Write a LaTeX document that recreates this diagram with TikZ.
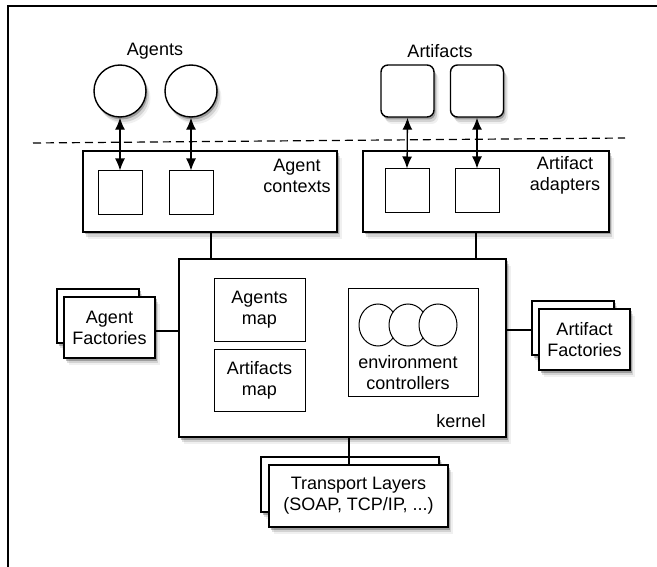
\documentclass[tikz,border=0pt]{standalone}
\usepackage{fontspec}
\setmainfont{Liberation Sans}
\usetikzlibrary{shadows,arrows.meta,calc,shapes.geometric}
\begin{document}
\begin{tikzpicture}[x=1pt,y=-1pt,
  every node/.style={font=\fontsize{18}{21}\selectfont, inner sep=0pt, align=center},
  shad/.style={general shadow={shadow xshift=1.5pt,shadow yshift=-2.5pt,fill=black,opacity=.25},
               general shadow={shadow xshift=3pt,shadow yshift=-5pt,fill=black,opacity=.12},
               general shadow={shadow xshift=4.5pt,shadow yshift=-7pt,fill=black,opacity=.06}},
  outerbox/.style={draw, line width=1.4pt, fill=white, rectangle, shad},
  innerbox/.style={draw, line width=1pt, fill=white, rectangle},
  agentc/.style={draw, line width=1.4pt, fill=white, circle, minimum size=52pt, shad},
  artsq/.style={draw, line width=1.4pt, fill=white, rectangle, rounded corners=7pt, minimum width=53pt, minimum height=52pt, shad},
  envc/.style={draw, line width=1pt, fill=white, ellipse, minimum width=38pt, minimum height=42pt},
  arr/.style={line width=1.3pt, {Latex[length=12pt,width=10pt]}-{Latex[length=12pt,width=10pt]}},
  conn/.style={line width=2.6pt},
  txt/.style={draw=none, fill=none}
]
\useasboundingbox (0,0) rectangle (657,567);
% frame
\coordinate (fbl) at (8,567);
\coordinate (ftl) at (8,6);
\coordinate (ftr) at (657,6);
\draw[line width=1.4pt] (fbl) -- (ftl) -- (ftr);

% top labels
\node[txt] (agl) at (155,51) {Agents};
\node[txt] (arl) at (440,51) {Artifacts};

% agents and artifacts
\node[agentc] (ag1) at (120,91) {};
\node[agentc] (ag2) at (191,91) {};
\node[artsq] (ar1) at (407.5,91) {};
\node[artsq] (ar2) at (477,91) {};

% dashed line
\coordinate (dl) at (33,143);
\coordinate (dr) at (625,138);
\draw[line width=1.2pt, dash pattern=on 8pt off 5pt] (dl) -- (dr);

% agent contexts
\node[outerbox, minimum width=254pt, minimum height=81pt] (agctx) at (210,191.5) {};
\node[innerbox, minimum size=44pt] (as1) at (120,193) {};
\node[innerbox, minimum size=44pt] (as2) at (191,193) {};
\node[txt] (agctxl) at (297,175.5) {Agent\\contexts};

% artifact adapters
\node[outerbox, minimum width=246pt, minimum height=81pt] (artad) at (486,191.5) {};
\node[innerbox, minimum size=44pt] (rs1) at (407,191) {};
\node[innerbox, minimum size=44pt] (rs2) at (477,191) {};
\node[txt] (artadl) at (565,175) {Artifact\\adapters};

% arrows
\draw[arr] (ag1.south) -- (as1.north);
\draw[arr] (ag2.south) -- (as2.north);
\draw[arr] (ar1.south) -- (rs1.north);
\draw[arr] (ar2.south) -- (rs2.north);

% kernel
\node[outerbox, minimum width=327pt, minimum height=178pt] (kernel) at (342.5,348) {};
\node[innerbox, minimum width=91pt, minimum height=62pt] (agmap) at (259.5,310) {Agents\\map};
\node[innerbox, minimum width=91pt, minimum height=62pt] (armap) at (259.5,380) {Artifacts\\map};
\node[innerbox, minimum width=130pt, minimum height=107pt] (envbox) at (413,342.5) {};
\node[envc] (ec1) at (378,325) {};
\node[envc] (ec2) at (408,325) {};
\node[envc] (ec3) at (438,325) {};
\node[txt] (envl) at (408,372.5) {environment\\controllers};
\node[txt] (kl) at (461,421) {kernel};

% agent factories
\node[outerbox, line width=1.2pt, minimum width=82pt, minimum height=54pt] (afb) at (98,316) {};
\node[outerbox, line width=1.2pt, minimum width=91pt, minimum height=61pt] (aff) at (109.5,327.5) {Agent\\Factories};

% artifact factories
\node[outerbox, line width=1.2pt, minimum width=82pt, minimum height=54pt] (rfb) at (573,328) {};
\node[outerbox, line width=1.2pt, minimum width=91pt, minimum height=61pt] (rff) at (584.5,339.5) {Artifact\\Factories};

% transport layers
\node[outerbox, line width=1.2pt, minimum width=178pt, minimum height=55pt] (tb) at (350,484.5) {};
\node[outerbox, line width=1.2pt, minimum width=179pt, minimum height=62pt] (tf) at (358.5,496) {Transport Layers\\(SOAP, TCP/IP, ...)};

% connectors
\coordinate (cx1) at (211,0);
\coordinate (cx2) at (476,0);
\coordinate (cx3) at (349,0);
\coordinate (cy1) at (0,331);
\coordinate (cy2) at (0,330);
\draw[conn] (agctx.south -| cx1) -- (kernel.north -| cx1);
\draw[conn] (artad.south -| cx2) -- (kernel.north -| cx2);
\draw[conn] (kernel.south -| cx3) -- (tf.north -| cx3);
\draw[conn] (aff.east |- cy1) -- (kernel.west |- cy1);
\draw[conn] (kernel.east |- cy2) -- (rfb.west |- cy2);
\end{tikzpicture}
\end{document}
